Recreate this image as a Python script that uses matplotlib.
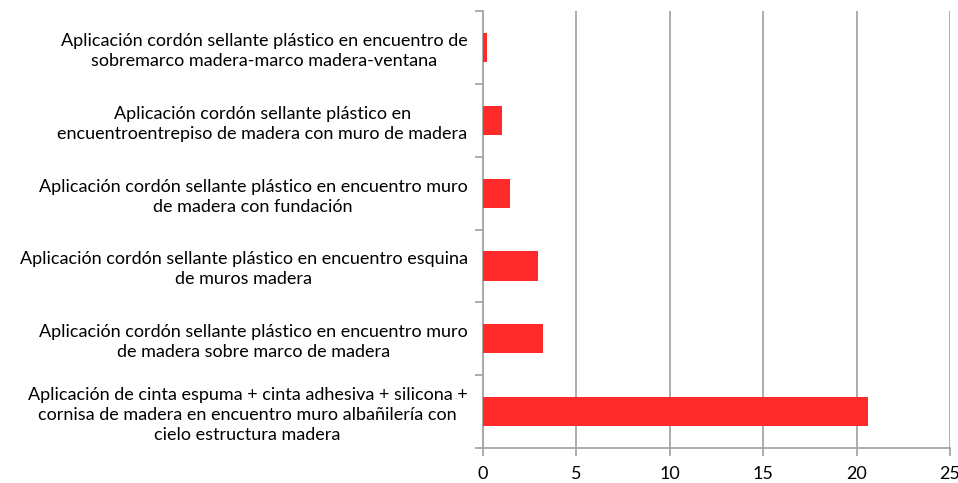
import numpy as np
import matplotlib.pyplot as plt
from matplotlib.ticker import MultipleLocator

# Categories (top to bottom) and values
labels = [
    "Aplicación cordón sellante plástico en encuentro de\nsobremarco madera-marco madera-ventana",
    "Aplicación cordón sellante plástico en\nencuentroentrepiso de madera con muro de madera",
    "Aplicación cordón sellante plástico en encuentro muro\nde madera con fundación",
    "Aplicación cordón sellante plástico en encuentro esquina\nde muros madera",
    "Aplicación cordón sellante plástico en encuentro muro\nde madera sobre marco de madera",
    "Aplicación de cinta espuma + cinta adhesiva + silicona +\ncornisa de madera en encuentro muro albañilería con\ncielo estructura madera",
]
values = [0.23, 1.0, 1.45, 2.95, 3.2, 20.6]
xticks = [0, 5, 10, 15, 20, 25]

plt.rcParams['font.family'] = ['Lato', 'DejaVu Sans']
grey = '#a6a6a6'

fig = plt.figure(figsize=(9.58, 4.83), dpi=100)
ax = fig.add_axes([0.504, 0.0725, 0.4877, 0.9045])

y = np.arange(len(values))
ax.barh(y, values, height=0.4, color='#ff2a2a', zorder=3)
ax.set_ylim(len(values) - 0.5, -0.5)
ax.set_xlim(0, 25)

ax.set_xticks(xticks)
ax.set_xticklabels([str(t) for t in xticks], fontsize=13)
ax.set_yticks(y)
ax.set_yticklabels(labels, fontsize=13, linespacing=1.3, multialignment='center')
ax.yaxis.set_minor_locator(MultipleLocator(1, offset=0.5))

ax.tick_params(axis='y', which='major', length=0, pad=11)
ax.tick_params(axis='y', which='minor', length=6, color=grey, width=1.3)
ax.tick_params(axis='x', length=6, color=grey, width=1.3, pad=7)

ax.grid(axis='x', color=grey, linewidth=1.3, zorder=0)
for s in ['top', 'right']:
    ax.spines[s].set_visible(False)
for s in ['left', 'bottom']:
    ax.spines[s].set_color(grey)
    ax.spines[s].set_linewidth(1.3)

fig.savefig('out.png', dpi=100)
